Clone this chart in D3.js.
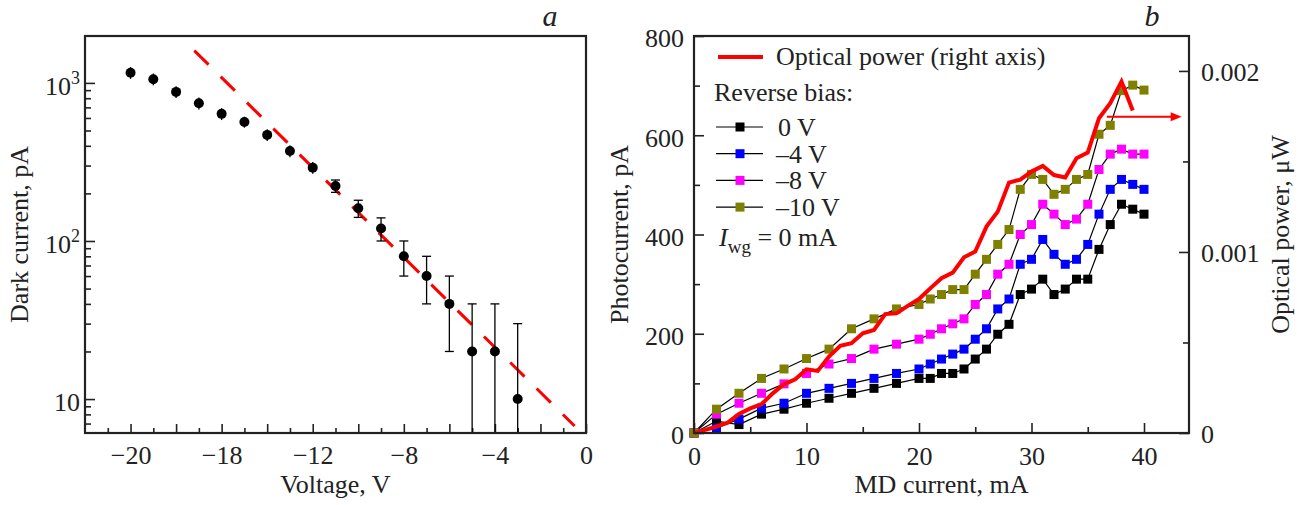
<!DOCTYPE html>
<html>
<head>
<meta charset="utf-8">
<script src="https://cdn.jsdelivr.net/npm/d3@7"></script>
<style>
  body { margin: 0; background: #fff; }
  svg text { font-family: "Liberation Serif", "Times New Roman", serif; fill: #222; }
</style>
</head>
<body>
<svg id="chart" width="1303" height="505"></svg>
<script>
// ---- panel a: dark current vs voltage ----
const voltage = [-20, -19, -18, -17, -16, -15, -14, -13, -12, -11, -10, -9, -8, -7, -6, -5, -4, -3]
const darkCurrent = [1160, 1055, 877, 744, 637, 566, 469, 371, 291, 223, 161, 120, 80, 60, 40, 20, 20, 10]
const darkErr = [100, 90, 75, 65, 55, 45, 40, 32, 25, 20, 20, 20, 20, 20, 20, 20, 20, 20]
const fitVoltage = [-17.2, -0.5]
const fitCurrent = [1600, 6.75]
const voltTicks = [-20, -16, -12, -8, -4, 0]
const voltLabels = ["\u221220", "\u221218", "\u221212", "\u22128", "\u22124", "0"]
const darkTicks = [10, 100, 1000]

// ---- panel b: photocurrent vs MD current ----
const mdCurrent = [0, 2, 4, 6, 8, 10, 12, 14, 16, 18, 20, 21, 22, 23, 24, 25, 26, 27, 28, 29, 30, 31, 32, 33, 34, 35, 36, 37, 38, 39, 40]
const pc0V = [0, 24, 17, 38, 48, 60, 70, 80, 90, 100, 110, 110, 120, 120, 129, 149, 169, 199, 219, 279, 290, 310, 279, 290, 310, 310, 370, 420, 461, 451, 441]
const pc4V = [0, 10, 28, 50, 60, 80, 90, 100, 110, 120, 129, 139, 149, 159, 169, 189, 210, 250, 270, 340, 350, 390, 360, 340, 350, 380, 441, 491, 511, 501, 491]
const pc8V = [0, 38, 60, 80, 99, 120, 139, 150, 169, 179, 189, 199, 210, 220, 230, 259, 279, 320, 340, 400, 420, 461, 441, 420, 431, 461, 531, 562, 572, 562, 562]
const pc10V = [0, 48, 80, 110, 129, 150, 169, 210, 230, 250, 259, 270, 279, 289, 289, 320, 350, 380, 410, 491, 521, 511, 481, 491, 511, 521, 602, 620, 690, 701, 691]
const biasLabels = ["0 V", "\u20134 V", "\u20138 V", "\u201310 V"]
const biasColors = ["#000000", "#0000ff", "#ff00ff", "#808000"]
const opticalCurrent = d3.range(0, 40)
const opticalPower = [0, 0.017, 0.036, 0.057, 0.105, 0.136, 0.159, 0.219, 0.269, 0.297, 0.352, 0.343, 0.422, 0.481, 0.496, 0.551, 0.569, 0.657, 0.661, 0.702, 0.740, 0.799, 0.855, 0.886, 0.971, 1.002, 1.140, 1.223, 1.383, 1.400, 1.444, 1.475, 1.425, 1.411, 1.518, 1.549, 1.739, 1.822, 1.941, 1.781].map(v => v * 0.001)
const arrowCurrent = [36.7, 43.35]
const arrowPower = 0.001747

const ink = "#222"
const fs = 26
const svg = d3.select("#chart")

function styleAxis(g) {
  g.attr("color", ink)
  g.select(".domain").remove()
  g.selectAll("line").attr("stroke-width", 1.6)
  g.selectAll("text").attr("font-size", fs).attr("fill", ink)
}

// ================= panel a =================
const A = { left: 85, right: 586, top: 36, bottom: 433 }
const xA = d3.scaleLinear().domain([-22, 0]).range([A.left, A.right])
const yA = d3.scaleLog().domain([6.1, 1980]).range([A.bottom, A.top])
const gA = svg.append("g")

gA.append("g").attr("transform", `translate(0,${A.bottom})`)
  .call(d3.axisBottom(xA).tickValues(d3.range(-21, 0, 2)).tickSize(-5).tickFormat(""))
  .call(styleAxis)
gA.append("g").attr("transform", `translate(0,${A.bottom})`)
  .call(d3.axisBottom(xA).tickValues(d3.range(-20, 1, 2)).tickSize(-9).tickPadding(13)
    .tickFormat(d => { const i = voltTicks.indexOf(d); return i < 0 ? "" : voltLabels[i] }))
  .call(styleAxis)

const minorLog = yA.ticks().filter(d => darkTicks.indexOf(d) < 0)
gA.append("g").attr("transform", `translate(${A.left},0)`)
  .call(d3.axisLeft(yA).tickValues(minorLog).tickSize(-6).tickFormat(""))
  .call(styleAxis)
gA.append("g").attr("transform", `translate(${A.left},0)`)
  .call(d3.axisLeft(yA).tickValues(darkTicks).tickSize(-10).tickFormat(""))
  .call(styleAxis)

// log tick labels with superscripts
darkTicks.forEach(d => {
  const p = Math.round(Math.log10(d))
  const t = gA.append("text").attr("text-anchor", "end")
    .attr("x", A.left - 5).attr("y", yA(d) + 12).attr("font-size", fs)
  if (p === 1) {
    t.text("10")
  } else {
    t.append("tspan").text("10")
    t.append("tspan").attr("font-size", 18).attr("dy", -11).text(p)
  }
})

// dashed fit line
gA.append("path")
  .datum(fitVoltage.map((v, i) => [v, fitCurrent[i]]))
  .attr("d", d3.line().x(d => xA(d[0])).y(d => yA(d[1])))
  .attr("fill", "none").attr("stroke", "#ff0000").attr("stroke-width", 3)
  .attr("stroke-dasharray", "20,17")

// error bars
const yMin = yA.domain()[0]
voltage.forEach((v, i) => {
  const c = darkCurrent[i], e = darkErr[i]
  const yTop = yA(c + e)
  const lowClamped = c - e <= yMin
  const yBot = lowClamped ? yA(yMin) : yA(c - e)
  const x = xA(v)
  gA.append("line").attr("x1", x).attr("x2", x).attr("y1", yTop).attr("y2", yBot)
    .attr("stroke", "#000").attr("stroke-width", 1.3)
  // caps only where the bar clears the dot
  const caps = yBot - yA(c) > 6.3
  if (caps) {
    gA.append("line").attr("x1", x - 4.5).attr("x2", x + 4.5).attr("y1", yTop).attr("y2", yTop)
      .attr("stroke", "#000").attr("stroke-width", 1.3)
    if (!lowClamped) {
      gA.append("line").attr("x1", x - 4.5).attr("x2", x + 4.5).attr("y1", yBot).attr("y2", yBot)
        .attr("stroke", "#000").attr("stroke-width", 1.3)
    }
  }
})

gA.selectAll("circle.dot")
  .data(voltage.map((v, i) => [v, darkCurrent[i]]))
  .enter().append("circle")
  .attr("cx", d => xA(d[0])).attr("cy", d => yA(d[1])).attr("r", 5)
  .attr("fill", "#000")

gA.append("rect").attr("x", A.left).attr("y", A.top)
  .attr("width", A.right - A.left).attr("height", A.bottom - A.top)
  .attr("fill", "none").attr("stroke", ink).attr("stroke-width", 2.2)

gA.append("text").attr("transform", `translate(28,${(A.top + A.bottom) / 2}) rotate(-90)`)
  .attr("text-anchor", "middle").attr("font-size", fs).text("Dark current, pA")
gA.append("text").attr("x", (A.left + A.right) / 2).attr("y", 493)
  .attr("text-anchor", "middle").attr("font-size", fs).text("Voltage, V")
gA.append("text").attr("x", 550).attr("y", 26).attr("text-anchor", "middle")
  .attr("font-size", 30).attr("font-style", "italic").text("a")

// ================= panel b =================
const B = { left: 694, right: 1189, top: 36, bottom: 433 }
const xB = d3.scaleLinear().domain([0, 44]).range([B.left, B.right])
const yB = d3.scaleLinear().domain([0, 800]).range([B.bottom, B.top])
const yP = d3.scaleLinear().domain([0, 0.002193]).range([B.bottom, B.top])
const gB = svg.append("g")

gB.append("g").attr("transform", `translate(0,${B.bottom})`)
  .call(d3.axisBottom(xB).tickValues([5, 15, 25, 35]).tickSize(-6).tickFormat(""))
  .call(styleAxis)
gB.append("g").attr("transform", `translate(0,${B.bottom})`)
  .call(d3.axisBottom(xB).tickValues([0, 10, 20, 30, 40]).tickSize(-10).tickPadding(14))
  .call(styleAxis)

gB.append("g").attr("transform", `translate(${B.left},0)`)
  .call(d3.axisLeft(yB).tickValues([100, 300, 500, 700]).tickSize(-6).tickFormat(""))
  .call(styleAxis)
gB.append("g").attr("transform", `translate(${B.left},0)`)
  .call(d3.axisLeft(yB).tickValues([0, 200, 400, 600, 800]).tickSize(-10).tickPadding(10))
  .call(styleAxis)
  .call(g => g.selectAll("text").attr("dy", "0.42em"))

gB.append("g").attr("transform", `translate(${B.right},0)`)
  .call(d3.axisRight(yP).tickValues([0.0005, 0.0015]).tickSize(-6).tickFormat(""))
  .call(styleAxis)
gB.append("g").attr("transform", `translate(${B.right},0)`)
  .call(d3.axisRight(yP).tickValues([0, 0.001, 0.002]).tickSize(-10).tickPadding(12)
    .tickFormat(d => d === 0 ? "0" : d3.format(".3f")(d)))
  .call(styleAxis)
  .call(g => g.selectAll("text").attr("dy", "0.36em"))

const series = [pc0V, pc4V, pc8V, pc10V]
const lineB = d3.line().x((d, i) => xB(mdCurrent[i])).y(d => yB(d))
series.forEach(s => {
  gB.append("path").datum(s).attr("d", lineB)
    .attr("fill", "none").attr("stroke", "#000").attr("stroke-width", 1.2)
})
series.forEach((s, k) => {
  gB.selectAll(null).data(s).enter().append("rect")
    .attr("x", (d, i) => xB(mdCurrent[i]) - 4.5)
    .attr("y", d => yB(d) - 4.5)
    .attr("width", 9).attr("height", 9)
    .attr("fill", biasColors[k])
})

gB.append("path")
  .datum(opticalPower)
  .attr("d", d3.line().x((d, i) => xB(opticalCurrent[i])).y(d => yP(d)))
  .attr("fill", "none").attr("stroke", "#ff0000").attr("stroke-width", 4)
  .attr("stroke-linejoin", "miter")

// arrow to the right axis
const ax0 = xB(arrowCurrent[0]), ax1 = xB(arrowCurrent[1]), ay = yP(arrowPower)
gB.append("line").attr("x1", ax0).attr("x2", ax1 - 8).attr("y1", ay).attr("y2", ay)
  .attr("stroke", "#ff0000").attr("stroke-width", 1.8)
gB.append("path")
  .attr("d", `M${ax1},${ay} L${ax1 - 11},${ay - 4.5} L${ax1 - 11},${ay + 4.5} Z`)
  .attr("fill", "#ff0000")

gB.append("rect").attr("x", B.left).attr("y", B.top)
  .attr("width", B.right - B.left).attr("height", B.bottom - B.top)
  .attr("fill", "none").attr("stroke", ink).attr("stroke-width", 2.2)

// legend
const lg = gB.append("g")
lg.append("line").attr("x1", 718).attr("x2", 763).attr("y1", 57).attr("y2", 57)
  .attr("stroke", "#ff0000").attr("stroke-width", 4)
lg.append("text").attr("x", 776).attr("y", 65).attr("font-size", fs).text("Optical power (right axis)")
lg.append("text").attr("x", 714).attr("y", 101).attr("font-size", fs).text("Reverse bias:")
biasLabels.forEach((lab, k) => {
  const y = 127 + k * 26.7
  lg.append("line").attr("x1", 716).attr("x2", 763).attr("y1", y).attr("y2", y)
    .attr("stroke", "#000").attr("stroke-width", 1.2)
  lg.append("rect").attr("x", 735.5).attr("y", y - 4.5).attr("width", 9).attr("height", 9)
    .attr("fill", biasColors[k])
  lg.append("text").attr("x", lab.startsWith("0") ? 778 : 776).attr("y", y + 9)
    .attr("font-size", fs).text(lab)
})
const iw = lg.append("text").attr("x", 719).attr("y", 246).attr("font-size", fs)
iw.append("tspan").attr("font-style", "italic").text("I")
iw.append("tspan").attr("font-size", 19).attr("dy", 7).text("wg")
iw.append("tspan").attr("dy", -7).text(" = 0 mA")

gB.append("text").attr("transform", `translate(628,${(B.top + B.bottom) / 2}) rotate(-90)`)
  .attr("text-anchor", "middle").attr("font-size", fs).text("Photocurrent, pA")
gB.append("text").attr("transform", `translate(1289,${(B.top + B.bottom) / 2}) rotate(-90)`)
  .attr("text-anchor", "middle").attr("font-size", fs).text("Optical power, \u03bcW")
gB.append("text").attr("x", (B.left + B.right) / 2).attr("y", 493)
  .attr("text-anchor", "middle").attr("font-size", fs).text("MD current, mA")
gB.append("text").attr("x", 1152).attr("y", 26).attr("text-anchor", "middle")
  .attr("font-size", 30).attr("font-style", "italic").text("b")
</script>
</body>
</html>
